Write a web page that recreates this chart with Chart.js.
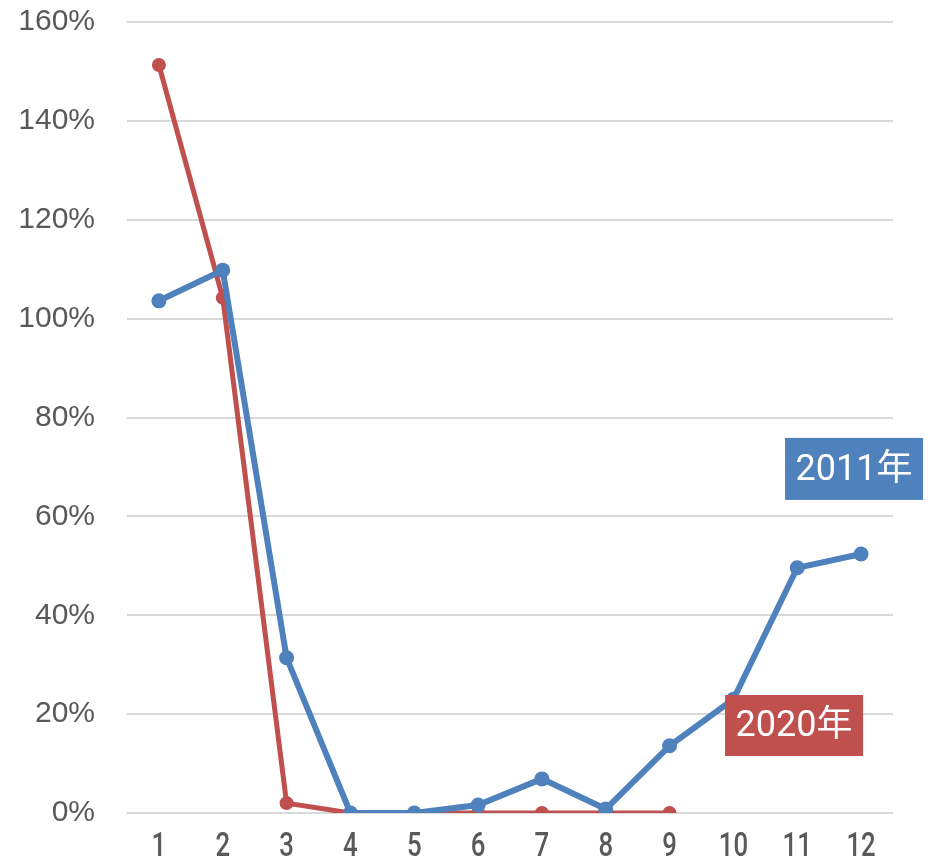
<!DOCTYPE html>
<html>
<head>
<meta charset="utf-8">
<script src="https://cdn.jsdelivr.net/npm/chart.js@4/dist/chart.umd.min.js"></script>
<style>
  html, body { margin: 0; padding: 0; background: #fff; }
  #wrap { width: 944px; height: 862px; }
</style>
</head>
<body>
<div id="wrap"><canvas id="lineChart" width="944" height="862"></canvas></div>
<script>
// months on the x axis
var months = ["1", "2", "3", "4", "5", "6", "7", "8", "9", "10", "11", "12"];
// values in percent
var values2011 = [103.6, 109.8, 31.4, 0, 0, 1.6, 6.9, 0.8, 13.6, 23.0, 49.6, 52.4];
var values2020 = [151.3, 104.2, 2.0, 0, 0, 0, 0, 0, 0, null, null, null];
var seriesNames = ["2011年", "2020年"];
var blue = "#4F81BD";
var red = "#C0504D";
var textGrey = "#595959";

/* draws the coloured name boxes next to the lines */
var nameBoxes = {
    id: "nameBoxes",
    afterDatasetsDraw: function (chart, args, opts) {
        var ctx = chart.ctx;
        var xs = chart.scales.x;
        var ys = chart.scales.y;
        opts.boxes.forEach(function (b) {
            var cx = xs.getPixelForValue(b.index);
            var cy = ys.getPixelForValue(b.value);
            ctx.save();
            ctx.fillStyle = b.color;
            ctx.fillRect(cx - b.w / 2, cy - b.h / 2, b.w, b.h);
            ctx.fillStyle = "#fff";
            ctx.font = "36px Roboto, 'Noto Sans CJK JP', sans-serif";
            ctx.textAlign = "center";
            ctx.textBaseline = "middle";
            ctx.fillText(b.text, cx, cy + 2);
            ctx.restore();
        });
    }
};

/* month labels are narrow in the original, so draw them squeezed */
var narrowTicks = {
    id: "narrowTicks",
    afterDraw: function (chart) {
        var ctx = chart.ctx;
        var xs = chart.scales.x;
        ctx.save();
        ctx.fillStyle = textGrey;
        ctx.font = "500 33px Roboto, 'Liberation Sans', Arial";
        ctx.textAlign = "center";
        ctx.textBaseline = "alphabetic";
        for (var i = 0; i < chart.data.labels.length; i++) {
            var px = xs.getPixelForTick(i);
            ctx.save();
            ctx.translate(px, 856);
            ctx.scale(0.78, 1);
            ctx.fillText(chart.data.labels[i], 0, 0);
            ctx.restore();
        }
        ctx.restore();
    }
};

var ctxLine = document.getElementById("lineChart");
var myLineChart = new Chart(ctxLine, {
    type: "line",
    data: {
        labels: months,
        datasets: [{
            label: seriesNames[0],
            data: values2011,
            borderColor: blue,
            backgroundColor: blue,
            borderWidth: 6,
            pointRadius: 7.5,
            pointHoverRadius: 7.5,
            pointBorderWidth: 0,
            tension: 0
        }, {
            label: seriesNames[1],
            data: values2020,
            borderColor: red,
            backgroundColor: red,
            borderWidth: 5,
            pointRadius: 7,
            pointHoverRadius: 7,
            pointBorderWidth: 0,
            tension: 0
        }]
    },
    options: {
        responsive: false,
        animation: false,
        layout: { padding: { top: 22, right: 51, bottom: 0, left: 0 } },
        plugins: {
            legend: { display: false },
            tooltip: { enabled: false },
            nameBoxes: {
                boxes: [
                    { text: seriesNames[0], index: 10.89, value: 69.6, w: 138, h: 62, color: blue },
                    { text: seriesNames[1], index: 9.95, value: 17.7, w: 138, h: 61, color: red }
                ]
            }
        },
        scales: {
            x: {
                offset: true,
                grid: { display: false, drawTicks: false },
                border: { display: false },
                ticks: { display: false },
                afterFit: function (s) {
                    s.height = 49;
                    s.paddingLeft = 0;
                    s.paddingRight = 0;
                }
            },
            y: {
                min: 0,
                max: 160,
                ticks: {
                    stepSize: 20,
                    color: textGrey,
                    font: { family: "'Liberation Sans', Arial", size: 30 },
                    padding: 32,
                    callback: function (v) { return v + "%"; }
                },
                grid: { color: "#D9D9D9", lineWidth: 2, drawTicks: false },
                border: { display: false },
                afterFit: function (s) {
                    s.width = 127;
                    s.paddingTop = 0;
                    s.paddingBottom = 0;
                }
            }
        }
    },
    plugins: [nameBoxes, narrowTicks]
});
</script>
</body>
</html>
